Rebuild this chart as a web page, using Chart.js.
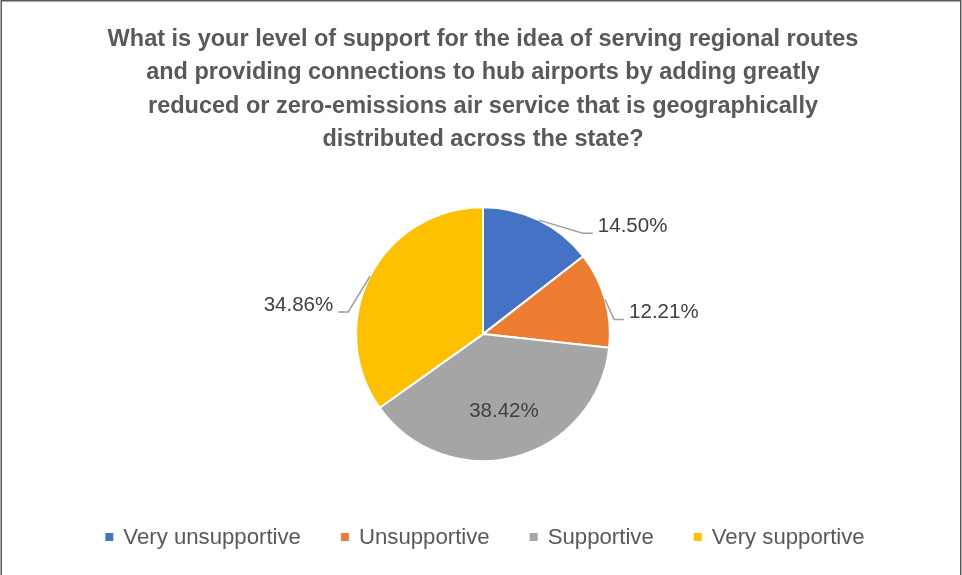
<!DOCTYPE html>
<html>
<head>
<meta charset="utf-8">
<script src="https://cdn.jsdelivr.net/npm/chart.js@4.4.0/dist/chart.umd.min.js"></script>
<style>
  html, body { margin: 0; padding: 0; background: #fff; }
  canvas { display: block; }
</style>
</head>
<body>
<canvas id="pieChart" width="962" height="575"></canvas>
<script>
const categories = ["Very unsupportive", "Unsupportive", "Supportive", "Very supportive"];
const shares = [14.50, 12.21, 38.42, 34.86];
const sliceColors = ["#4472C4", "#ED7D31", "#A5A5A5", "#FFC000"];
const titleLines = [
    "What is your level of support for the idea of serving regional routes",
    "and providing connections to hub airports by adding greatly",
    "reduced or zero-emissions air service that is geographically",
    "distributed across the state?"
];

const FONT = "'Liberation Sans', Arial, sans-serif";

// where each label sits relative to its slice (Excel-like placement)
const labelPlace = [
    { side: "right", dx: 59, dy: 6 },
    { side: "right", dx: 24, dy: 13 },
    { side: "inside", r: 0.62 },
    { side: "left", dx: -37, dy: 29 }
];

// frame around the whole chart
const framePlugin = {
    id: "frame",
    beforeDraw(chart) {
        const ctx = chart.ctx;
        ctx.save();
        ctx.fillStyle = "#fff";
        ctx.fillRect(0, 0, chart.width, chart.height);
        ctx.strokeStyle = "#595959";
        ctx.lineWidth = 1.5;
        ctx.strokeRect(1.25, 0.75, chart.width - 2.5, chart.height + 10);
        ctx.restore();
    }
};

// percentage labels with leader lines
const labelPlugin = {
    id: "pctLabels",
    afterDatasetsDraw(chart) {
        const ctx = chart.ctx;
        const meta = chart.getDatasetMeta(0);
        ctx.save();
        ctx.font = "20.5px " + FONT;
        ctx.fillStyle = "#404040";
        ctx.textBaseline = "middle";
        meta.data.forEach((arc, i) => {
            const p = arc.getProps(["x", "y", "startAngle", "endAngle", "outerRadius"], true);
            const mid = (p.startAngle + p.endAngle) / 2;
            const txt = shares[i].toFixed(2) + "%";
            const place = labelPlace[i];
            if (place.side === "inside") {
                const r = p.outerRadius * place.r;
                ctx.textAlign = "center";
                ctx.fillText(txt, p.x + Math.cos(mid) * r + 1, p.y + Math.sin(mid) * r + 1);
                return;
            }
            const ax = p.x + Math.cos(mid) * p.outerRadius;
            const ay = p.y + Math.sin(mid) * p.outerRadius;
            const tx = ax + place.dx;
            const ty = ay + place.dy;
            const ly = ty + 7;
            const dir = place.side === "right" ? -1 : 1;
            ctx.beginPath();
            ctx.strokeStyle = "#A0A0A0";
            ctx.lineWidth = 1.5;
            ctx.moveTo(ax, ay);
            ctx.lineTo(tx + dir * 15, ly);
            ctx.lineTo(tx + dir * 5, ly);
            ctx.stroke();
            ctx.textAlign = place.side === "right" ? "left" : "right";
            ctx.fillText(txt, tx, ty);
        });
        ctx.restore();
    }
};

// legend row along the bottom
const legendPlugin = {
    id: "bottomLegend",
    afterDraw(chart) {
        const ctx = chart.ctx;
        const box = 8, gapText = 10, gapItem = 40;
        ctx.save();
        ctx.font = "22.2px " + FONT;
        ctx.textBaseline = "middle";
        ctx.textAlign = "left";
        const widths = categories.map(c => ctx.measureText(c).width);
        const total = widths.reduce((a, w) => a + box + gapText + w, 0) + gapItem * (categories.length - 1);
        let x = (chart.width - total) / 2 + 4;
        const y = 537;
        categories.forEach((c, i) => {
            ctx.fillStyle = sliceColors[i];
            ctx.fillRect(x, y - box / 2, box, box);
            ctx.fillStyle = "#595959";
            ctx.fillText(c, x + box + gapText, y + 1);
            x += box + gapText + widths[i] + gapItem;
        });
        ctx.restore();
    }
};

new Chart(document.getElementById("pieChart"), {
    type: "pie",
    data: {
        labels: categories,
        datasets: [{
            data: shares,
            backgroundColor: sliceColors,
            borderColor: "#ffffff",
            borderWidth: 2
        }]
    },
    options: {
        responsive: false,
        animation: false,
        devicePixelRatio: 1,
        layout: { padding: { top: 0, left: 4, right: 0, bottom: 113 } },
        plugins: {
            legend: { display: false },
            tooltip: { enabled: false },
            title: {
                display: true,
                text: titleLines,
                color: "#595959",
                font: { family: FONT, size: 23.5, weight: "bold", lineHeight: "33.3px" },
                padding: { top: 23, bottom: 50 }
            }
        }
    },
    plugins: [framePlugin, labelPlugin, legendPlugin]
});
</script>
</body>
</html>
